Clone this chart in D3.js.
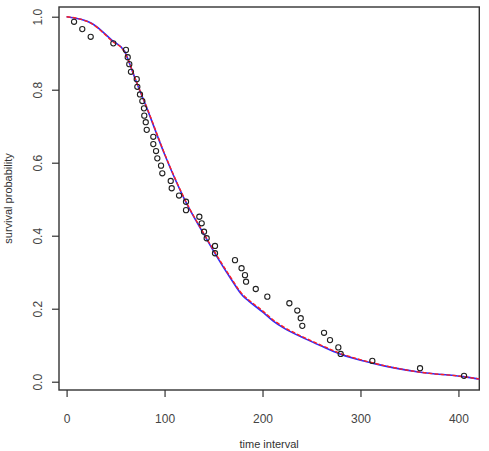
<!DOCTYPE html>
<html>
<head>
<meta charset="utf-8">
<script src="https://cdn.jsdelivr.net/npm/d3@7/dist/d3.min.js"></script>
<style>
    body { margin: 0; background: #fff; }
    #chart { width: 489px; height: 451px; }
</style>
</head>
<body>
<div id="chart"></div>
<script>
// observed survival (time, probability)
var obsTime = [7.6, 16.0, 24.6, 47.7, 60.6, 62.4, 64.0, 65.7, 71.6, 72.2,
    74.9, 77.3, 79.0, 79.3, 80.8, 81.8, 88.5, 88.5, 91.3, 92.6,
    96.4, 97.7, 106.3, 107.3, 114.8, 121.9, 121.9, 135.5, 137.9, 140.3,
    143.0, 151.5, 151.5, 171.9, 178.6, 182.1, 183.2, 193.1, 204.9, 227.4,
    235.5, 239.0, 240.6, 262.8, 268.9, 277.4, 279.8, 312.1, 360.8, 405.7];
var obsSurv = [0.986, 0.966, 0.945, 0.927, 0.909, 0.889, 0.870, 0.849, 0.829, 0.808,
    0.787, 0.769, 0.749, 0.729, 0.711, 0.690, 0.671, 0.651, 0.632, 0.612,
    0.592, 0.571, 0.550, 0.530, 0.510, 0.493, 0.470, 0.452, 0.434, 0.411,
    0.393, 0.372, 0.352, 0.333, 0.311, 0.292, 0.274, 0.254, 0.233, 0.215,
    0.195, 0.174, 0.153, 0.134, 0.114, 0.094, 0.076, 0.057, 0.037, 0.016];

// fitted curves
var fitTime = [0, 25, 47, 59, 63, 70, 83, 100, 121, 141, 152, 167, 180, 186,
    201, 211, 221, 245, 259, 279, 312, 361, 405, 422];
var fitBlue = [1.000, 0.983, 0.934, 0.906, 0.881, 0.830, 0.742, 0.623, 0.496, 0.400,
    0.349, 0.285, 0.235, 0.221, 0.189, 0.166, 0.148, 0.116, 0.099, 0.076,
    0.051, 0.026, 0.014, 0.007];
var fitRed = [1.000, 0.982, 0.932, 0.904, 0.881, 0.831, 0.744, 0.625, 0.498, 0.402,
    0.352, 0.288, 0.238, 0.224, 0.192, 0.169, 0.151, 0.118, 0.101, 0.078,
    0.052, 0.026, 0.014, 0.007];

var xTicks = [0, 100, 200, 300, 400];
var yTicks = [0, 0.2, 0.4, 0.6, 0.8, 1.0];

SurvivalChart = function(_parentElement) {
    vis = this;
    this.parentElement = _parentElement;
    this.svgWidth = 489;
    this.svgHeight = 451;
    this.margin = { top: 7, right: 9.7, bottom: 61, left: 59 };
    this.width = vis.svgWidth - vis.margin.left - vis.margin.right;
    this.height = vis.svgHeight - vis.margin.top - vis.margin.bottom;
    this.initVis();
};

SurvivalChart.prototype.initVis = function() {
    vis = this;

    vis.svg = d3.select("#" + vis.parentElement).append("svg")
        .attr("width", vis.svgWidth)
        .attr("height", vis.svgHeight)
        .style("font-family", "'Liberation Sans', Arial, sans-serif")
        .append("g")
        .attr("transform", "translate(" + vis.margin.left + "," + vis.margin.top + ")");

    vis.x = d3.scaleLinear().domain([-7.76, 421.3]).range([0, vis.width]);
    vis.y = d3.scaleLinear().domain([-0.0227, 1.0266]).range([vis.height, 0]);

    vis.svg.append("clipPath").attr("id", "plotClip")
        .append("rect").attr("width", vis.width).attr("height", vis.height);

    vis.drawAxes();
    vis.drawData();
};

SurvivalChart.prototype.drawAxes = function() {
    vis = this;

    var xAxis = d3.axisBottom(vis.x).tickValues(xTicks).tickSize(7).tickSizeOuter(0).tickPadding(17.5);
    var gx = vis.svg.append("g")
        .attr("transform", "translate(0," + vis.height + ")")
        .call(xAxis);
    gx.select(".domain").remove();
    gx.selectAll("line").attr("stroke", "#333").attr("stroke-width", 1.2);
    gx.selectAll("text").attr("fill", "#444").attr("font-size", "12px");

    var yAxis = d3.axisLeft(vis.y).tickValues(yTicks).tickSize(7).tickFormat(d3.format(".1f"));
    var gy = vis.svg.append("g").call(yAxis);
    gy.select(".domain").remove();
    gy.selectAll("line").attr("stroke", "#333").attr("stroke-width", 1.2);
    gy.selectAll("text")
        .attr("fill", "#444")
        .attr("font-size", "12px")
        .attr("text-anchor", "middle")
        .attr("transform", "rotate(-90)")
        .attr("x", 0)
        .attr("y", -21)
        .attr("dy", "0.35em");

    // plot box
    vis.svg.append("rect")
        .attr("width", vis.width)
        .attr("height", vis.height)
        .attr("fill", "none")
        .attr("stroke", "#333")
        .attr("stroke-width", 1.4);

    vis.svg.append("text")
        .attr("x", vis.width / 2)
        .attr("y", vis.height + 58)
        .attr("text-anchor", "middle")
        .attr("font-size", "11px")
        .attr("fill", "#333")
        .text("time interval");

    vis.svg.append("text")
        .attr("transform", "rotate(-90)")
        .attr("x", -vis.height / 2)
        .attr("y", -47)
        .attr("text-anchor", "middle")
        .attr("font-size", "11px")
        .attr("fill", "#333")
        .text("survival probability");
};

SurvivalChart.prototype.drawData = function() {
    vis = this;

    var line = d3.line()
        .x(function(d) { return vis.x(d[0]); })
        .y(function(d) { return vis.y(d[1]); })
        .curve(d3.curveMonotoneX);

    var plot = vis.svg.append("g").attr("clip-path", "url(#plotClip)");

    plot.append("path")
        .datum(d3.zip(fitTime, fitBlue))
        .attr("d", line)
        .attr("fill", "none")
        .attr("stroke", "#2b2bff")
        .attr("stroke-width", 1.6);

    plot.append("path")
        .datum(d3.zip(fitTime, fitRed))
        .attr("d", line)
        .attr("fill", "none")
        .attr("stroke", "#ff2020")
        .attr("stroke-width", 1.4)
        .attr("stroke-dasharray", "4,2");

    plot.selectAll("circle")
        .data(d3.zip(obsTime, obsSurv))
        .enter().append("circle")
        .attr("cx", function(d) { return vis.x(d[0]); })
        .attr("cy", function(d) { return vis.y(d[1]); })
        .attr("r", 2.6)
        .attr("fill", "none")
        .attr("stroke", "#222")
        .attr("stroke-width", 1.1);
};

new SurvivalChart("chart");
</script>
</body>
</html>
